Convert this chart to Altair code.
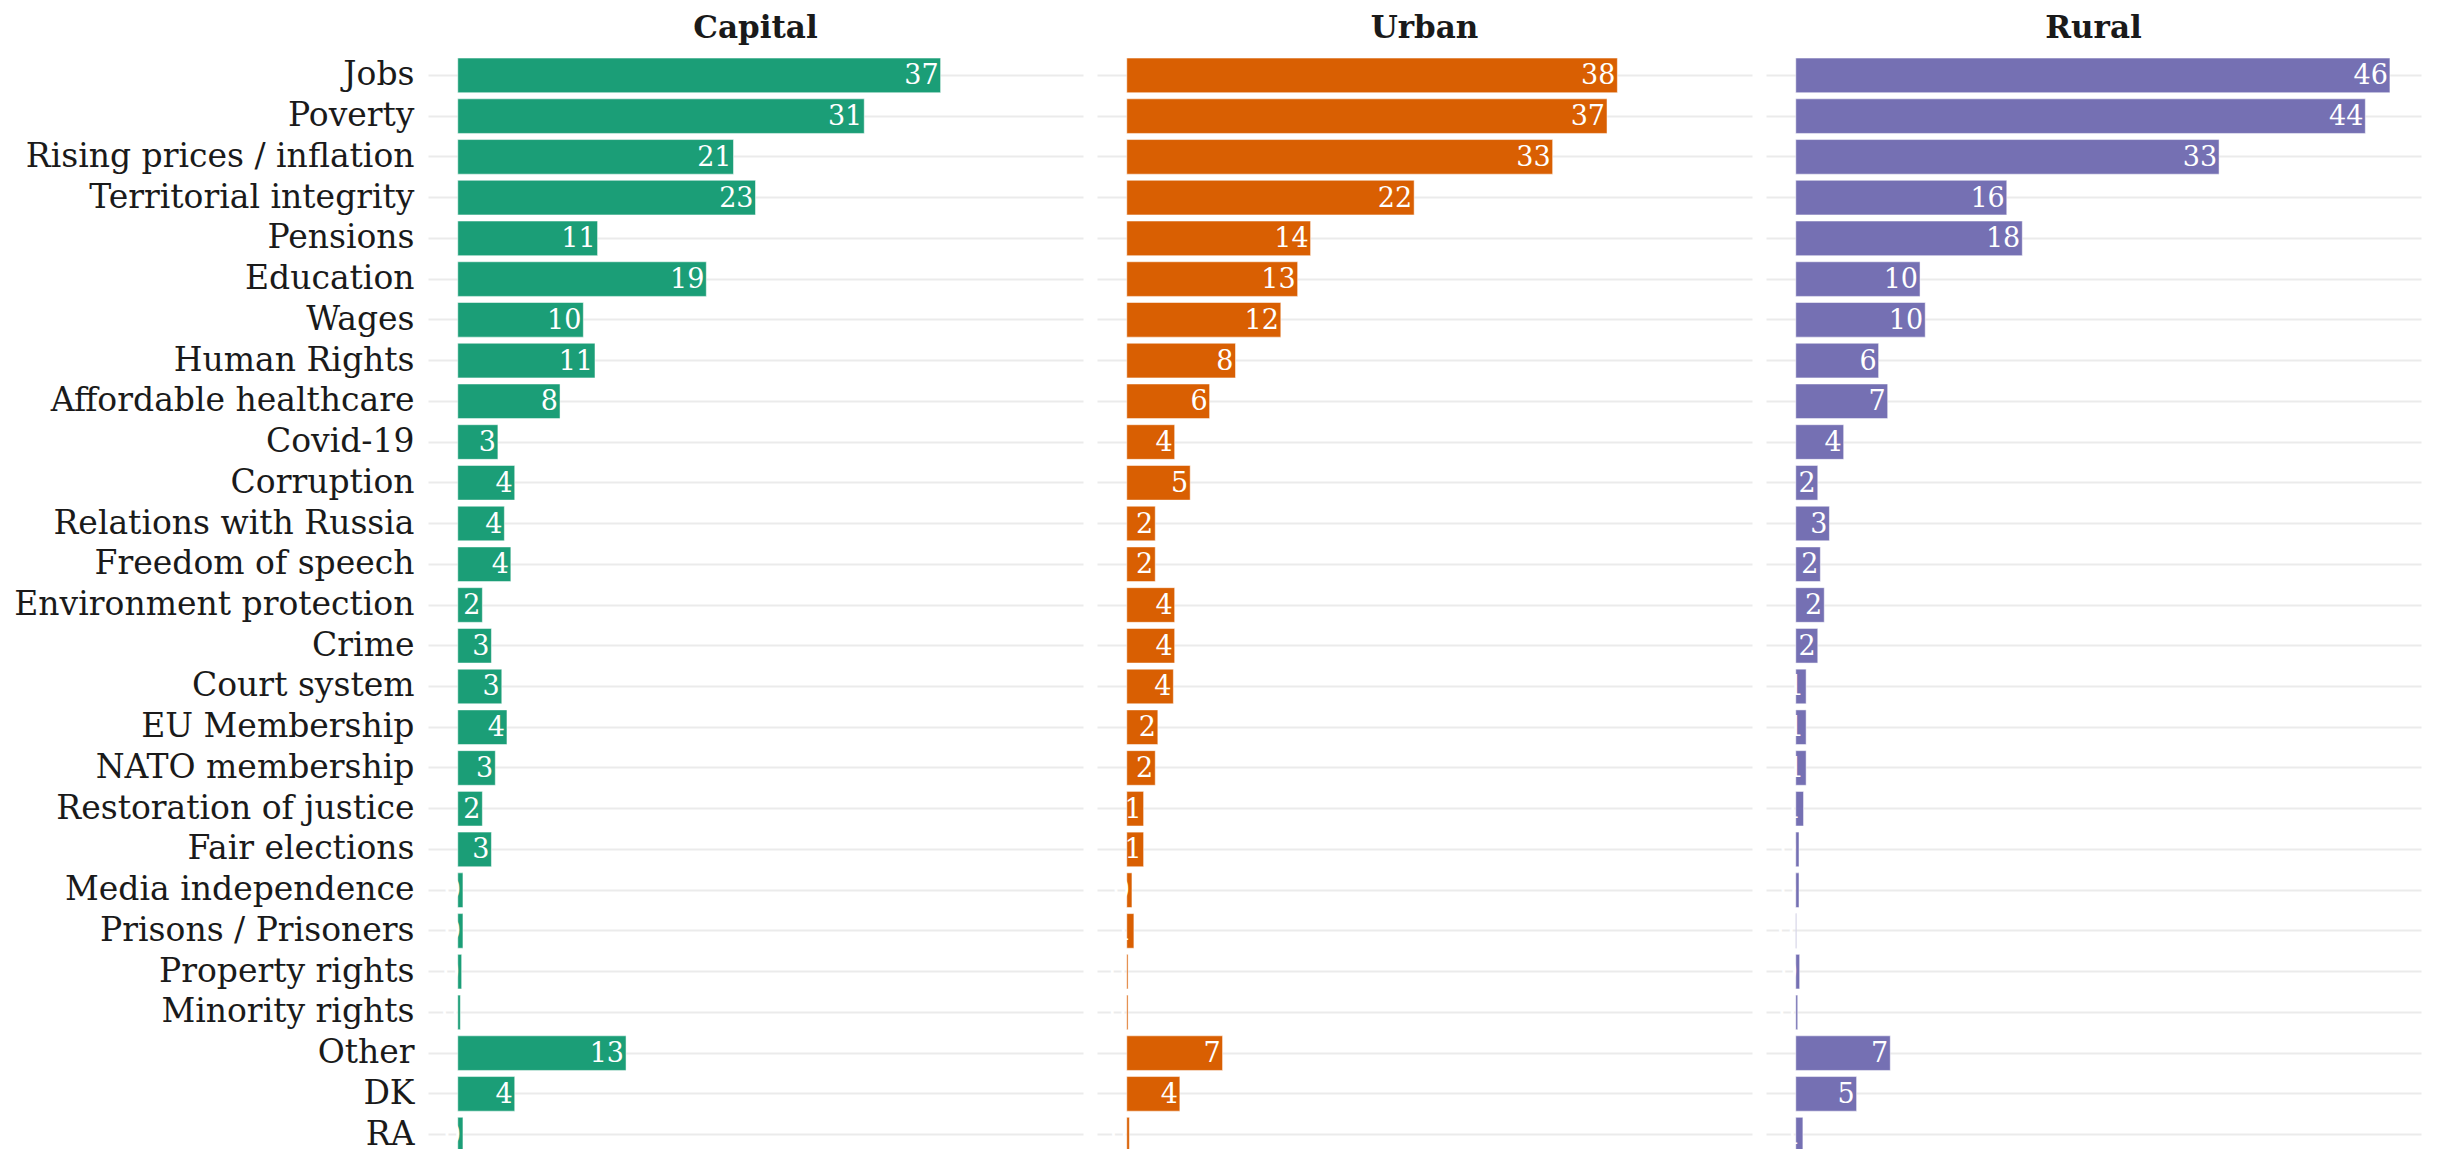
import altair as alt
import pandas as pd

categories = [
    "Jobs", "Poverty", "Rising prices / inflation", "Territorial integrity",
    "Pensions", "Education", "Wages", "Human Rights", "Affordable healthcare",
    "Covid-19", "Corruption", "Relations with Russia", "Freedom of speech",
    "Environment protection", "Crime", "Court system", "EU Membership",
    "NATO membership", "Restoration of justice", "Fair elections",
    "Media independence", "Prisons / Prisoners", "Property rights",
    "Minority rights", "Other", "DK", "RA",
]

capital = [37.3, 31.4, 21.3, 23.0, 10.8, 19.2, 9.7, 10.6, 7.9, 3.1, 4.4, 3.6, 4.1,
           1.9, 2.6, 3.4, 3.8, 2.9, 1.9, 2.6, 0.4, 0.4, 0.3, 0.2, 13.0, 4.4, 0.4]
urban = [37.9, 37.1, 32.9, 22.2, 14.2, 13.2, 11.9, 8.4, 6.4, 3.7, 4.9, 2.2, 2.2,
         3.7, 3.7, 3.6, 2.4, 2.2, 1.3, 1.3, 0.4, 0.55, 0.1, 0.1, 7.4, 4.1, 0.2]
rural = [45.9, 44.0, 32.7, 16.3, 17.5, 9.6, 10.0, 6.4, 7.1, 3.7, 1.7, 2.6, 1.9,
         2.2, 1.7, 0.8, 0.8, 0.8, 0.6, 0.25, 0.25, 0.05, 0.3, 0.15, 7.3, 4.7, 0.55]

panels = ["Capital", "Urban", "Rural"]
colors = ["#1b9e77", "#d95f02", "#7570b3"]

rows = []
for panel, vals in zip(panels, [capital, urban, rural]):
    for cat, v in zip(categories, vals):
        rows.append({"area": panel, "issue": cat, "value": v,
                     "label": str(int(round(v)))})
df = pd.DataFrame(rows)

FONT = "DejaVu Serif"

y_enc = alt.Y(
    "issue:N", sort=categories, title=None,
    scale=alt.Scale(paddingInner=0.15, paddingOuter=0.1),
    axis=alt.Axis(grid=True, bandPosition=0.5, gridColor="#ebebeb", gridWidth=2,
                  ticks=False, domain=False, labelFont=FONT, labelFontSize=33,
                  labelColor="#1a1a1a", labelPadding=14, labelLimit=700),
)
x_enc = alt.X("value:Q", title=None,
              scale=alt.Scale(domain=[-2.3, 48.3], nice=False, zero=False),
              axis=None)

bars = alt.Chart().mark_bar(stroke="white", strokeWidth=1, strokeOpacity=0.5).encode(
    y=y_enc, x=x_enc,
    color=alt.Color("area:N", scale=alt.Scale(domain=panels, range=colors), legend=None),
)
texts = alt.Chart().mark_text(align="right", baseline="middle", dx=-2, dy=1,
                              color="white", font=FONT, fontSize=27).encode(
    y=alt.Y("issue:N", sort=categories), x=alt.X("value:Q"), text="label:N",
)

chart = alt.layer(bars, texts, data=df).properties(width=655, height=1102).facet(
    column=alt.Column("area:N", sort=panels, title=None,
                      header=alt.Header(labelFont=FONT, labelFontSize=31,
                                        labelFontWeight="bold", labelColor="#1a1a1a",
                                        labelPadding=9)),
    spacing=14,
).configure_view(strokeWidth=0, stroke=None)

chart.save("out.html", embed_options={"renderer": "svg", "actions": False})
